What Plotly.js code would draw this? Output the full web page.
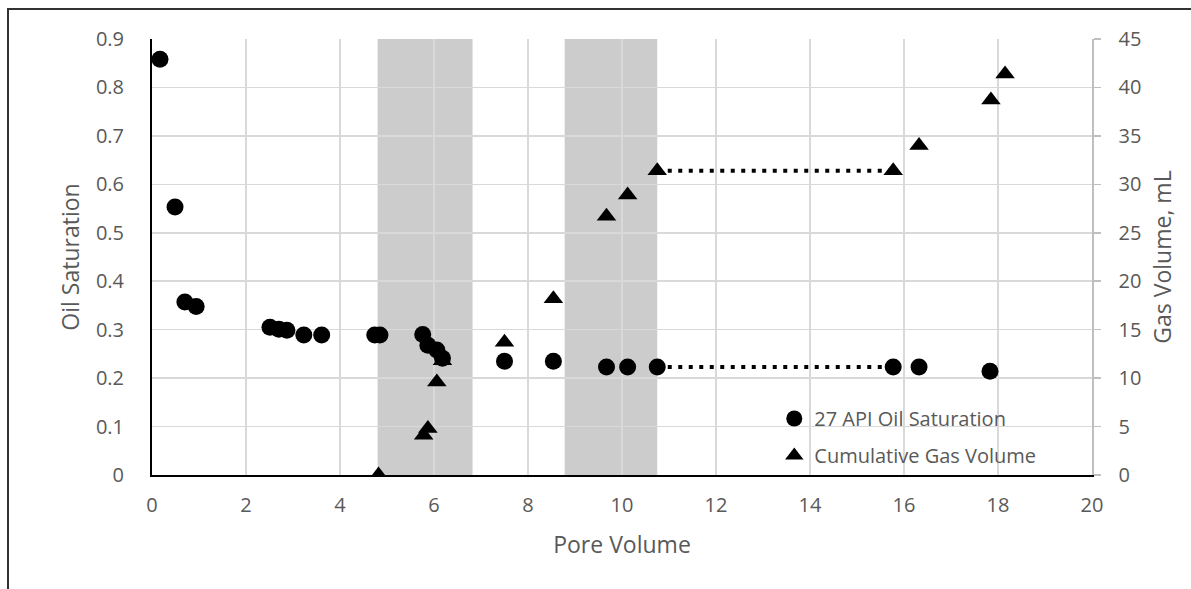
<!DOCTYPE html>
<html>
<head>
<meta charset="utf-8">
<script src="https://cdn.plot.ly/plotly-3.0.1.min.js"></script>
<style>
  html, body { margin: 0; padding: 0; background: #fff; overflow: hidden; }
  #chart { width: 1191px; height: 589px; }
  #frame { position: absolute; left: 7px; top: 8px; width: 1300px; height: 700px;
           border-top: 2px solid #333; border-left: 2px solid #333; pointer-events: none; }
</style>
</head>
<body>
<div id="chart"></div>
<div id="frame"></div>
<script>
// Oil saturation (27 API) vs pore volume
const oilPV  = [0.17, 0.49, 0.70, 0.94, 2.51, 2.70, 2.87, 3.23, 3.61, 4.74, 4.85, 5.76, 5.87, 6.06, 6.18, 7.50, 8.54, 9.67, 10.12, 10.75, 15.77, 16.32, 17.83];
const oilSat = [0.858, 0.553, 0.357, 0.348, 0.305, 0.301, 0.299, 0.289, 0.289, 0.289, 0.289, 0.290, 0.268, 0.258, 0.241, 0.235, 0.235, 0.223, 0.223, 0.223, 0.223, 0.223, 0.214];

// Cumulative gas volume (mL) vs pore volume
const gasPV  = [4.82, 5.78, 5.87, 6.06, 6.18, 7.50, 8.54, 9.67, 10.12, 10.75, 15.77, 16.32, 17.85, 18.15];
const gasVol = [0.0, 4.1, 4.8, 9.6, 11.8, 13.7, 18.2, 26.7, 28.9, 31.4, 31.4, 34.0, 38.7, 41.4];

// Shaded pore-volume intervals
const shadeStart = [4.80, 8.78];
const shadeEnd   = [6.82, 10.75];

// Dotted-gap segment endpoints (indices into the series above)
const oilGap = [19, 20];
const gasGap = [9, 10];

const seriesNames = ['27 API Oil Saturation', 'Cumulative Gas Volume'];

const FONT = '"Open Sans", Lato, sans-serif';
const GREY = '#595959';

const traces = [
  {
    x: oilGap.map(i => oilPV[i]), y: oilGap.map(i => oilSat[i]),
    mode: 'lines', line: {color: '#000', width: 4, dash: '4px,6.5px'},
    showlegend: false, hoverinfo: 'skip', xaxis: 'x', yaxis: 'y'
  },
  {
    x: gasGap.map(i => gasPV[i]), y: gasGap.map(i => gasVol[i]),
    mode: 'lines', line: {color: '#000', width: 4, dash: '4px,6.5px'},
    showlegend: false, hoverinfo: 'skip', xaxis: 'x', yaxis: 'y2'
  },
  {
    x: oilPV, y: oilSat, name: seriesNames[0], mode: 'markers', legendgroup: 'a',
    marker: {symbol: 'circle', size: 17, color: '#000'}, xaxis: 'x', yaxis: 'y'
  },
  {
    x: gasPV, y: gasVol, name: seriesNames[1], mode: 'markers', legendgroup: 'b',
    marker: {symbol: 'triangle-up', size: 17, color: '#000'}, xaxis: 'x', yaxis: 'y2'
  }
];

const shapes = shadeStart.map((s, i) => ({
  type: 'rect', xref: 'x', yref: 'paper', x0: s, x1: shadeEnd[i], y0: 0, y1: 1,
  fillcolor: 'rgba(0,0,0,0.2)', line: {width: 0}, layer: 'between'
}));

const layout = {
  width: 1191, height: 589,
  margin: {l: 152, r: 99, t: 39, b: 114},
  paper_bgcolor: '#fff', plot_bgcolor: '#fff',
  font: {family: FONT, size: 20, color: GREY},
  showlegend: true,
  legend: {
    x: 0.662, y: 0.0, xanchor: 'left', yanchor: 'bottom',
    bgcolor: 'rgba(0,0,0,0)', font: {family: FONT, size: 20, color: GREY},
    traceorder: 'grouped', tracegroupgap: 8, itemwidth: 30
  },
  xaxis: {
    range: [0, 20], dtick: 2, tick0: 0,
    showgrid: true, gridcolor: '#d9d9d9', gridwidth: 1.5,
    zeroline: false, showline: true, linecolor: '#000', linewidth: 2,
    ticks: '', ticklabelstandoff: 11,
    tickfont: {family: FONT, size: 20, color: GREY},
    title: {text: 'Pore Volume', font: {family: FONT, size: 23, color: GREY}, standoff: 20}
  },
  yaxis: {
    range: [0, 0.9], dtick: 0.1, tick0: 0,
    showgrid: true, gridcolor: '#d9d9d9', gridwidth: 1.5,
    zeroline: false, showline: true, linecolor: '#000', linewidth: 2,
    ticks: '', ticklabelstandoff: 22,
    tickfont: {family: FONT, size: 20, color: GREY},
    title: {text: 'Oil Saturation', font: {family: FONT, size: 23, color: GREY}, standoff: 10}
  },
  yaxis2: {
    range: [0, 45], dtick: 5, tick0: 0,
    overlaying: 'y', side: 'right', showgrid: false,
    zeroline: false, showline: true, linecolor: '#bfbfbf', linewidth: 1.5,
    ticks: 'outside', ticklen: 7, tickcolor: '#bfbfbf', tickwidth: 1.5,
    ticklabelstandoff: 14,
    tickfont: {family: FONT, size: 20, color: GREY},
    title: {text: 'Gas Volume, mL', font: {family: FONT, size: 23, color: GREY}, standoff: 14}
  },
  shapes: shapes
};

Plotly.newPlot('chart', traces, layout, {displayModeBar: false, staticPlot: true});
</script>
</body>
</html>
